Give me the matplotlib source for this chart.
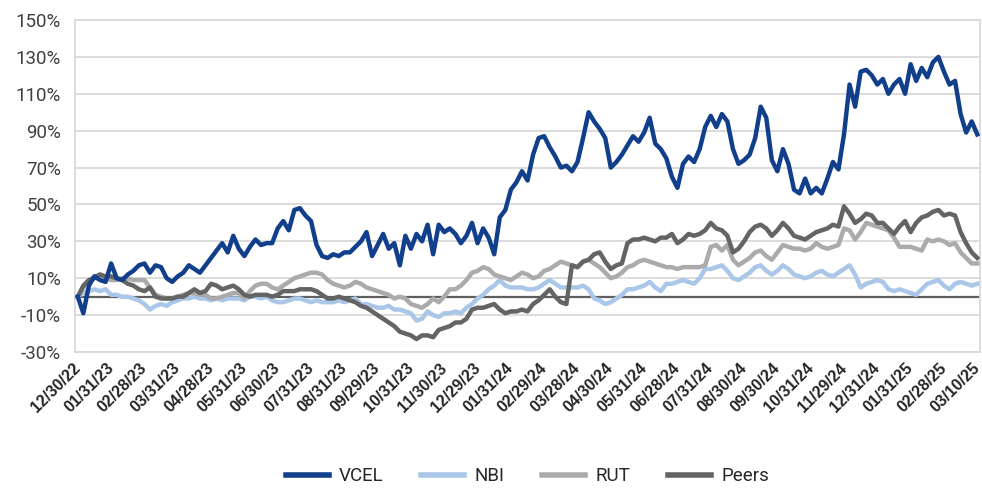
import matplotlib.pyplot as plt
from matplotlib.ticker import FuncFormatter

# values, roughly 6 points per month (cumulative return, %)
vcel = [0, -9, 6, 11, 9, 8, 18, 10, 9, 12, 14, 17, 18, 13, 17, 16, 10, 8, 11, 13,
        17, 15, 13, 17, 21, 25, 29, 24, 33, 26, 22, 27, 31, 28, 29, 29, 37, 41, 36, 47,
        48, 44, 41, 28, 22, 21, 23, 22, 24, 24, 27, 30, 35, 22, 28, 34, 26, 29, 17, 33,
        26, 34, 30, 39, 23, 39, 35, 37, 34, 29, 33, 40, 29, 37, 32, 23, 43, 47, 58, 62,
        68, 63, 77, 86, 87, 81, 76, 70, 71, 68, 73, 86, 100, 95, 91, 86, 70, 73, 77, 82,
        87, 84, 89, 97, 83, 80, 75, 65, 59, 72, 76, 73, 80, 92, 98, 92, 99, 95, 80, 72,
        74, 77, 86, 103, 97, 74, 68, 80, 72, 58, 56, 64, 56, 59, 56, 64, 73, 69, 88, 115,
        103, 122, 123, 120, 115, 118, 110, 115, 118, 110, 126, 117, 124, 119, 127, 130, 122, 115, 117, 99,
        89, 95, 88]

nbi = [0, 2, 3, 4, 3, 4, 1, 1, 0, 0, -1, -2, -4, -7, -5, -4, -5, -3, -2, -1,
       -1, 0, -1, -1, -2, -1, -2, -1, -1, -1, -2, 0, 0, -1, 0, -2, -3, -3, -2, -1,
       -1, -2, -3, -2, -3, -3, -3, -2, -3, -2, -1, -4, -4, -5, -6, -6, -5, -7, -7, -8,
       -9, -13, -12, -8, -10, -11, -9, -9, -8, -9, -6, -4, -1, 1, 4, 6, 9, 6, 5, 5,
       5, 4, 4, 5, 7, 9, 7, 5, 5, 5, 5, 6, 4, -1, -2, -4, -3, -1, 1, 4,
       4, 5, 6, 8, 5, 3, 7, 7, 8, 9, 8, 7, 10, 15, 15, 16, 17, 14, 10, 9,
       11, 13, 16, 17, 14, 12, 14, 17, 15, 12, 11, 10, 11, 13, 14, 12, 11, 13, 15, 17,
       12, 5, 7, 8, 9, 8, 4, 3, 4, 3, 2, 1, 4, 7, 8, 9, 6, 4, 7, 8,
       7, 6, 7]

rut = [0, 5, 8, 11, 12, 10, 9, 9, 10, 10, 9, 9, 9, 5, 1, 0, -1, -1, 0, 1,
       2, 2, 1, 1, -1, -1, 0, 1, 2, 2, -1, 3, 6, 7, 7, 5, 4, 6, 8, 10,
       11, 12, 13, 13, 12, 9, 7, 6, 5, 6, 8, 7, 5, 4, 3, 2, 1, -1, 0, -1,
       -4, -5, -6, -4, -1, -3, 0, 4, 4, 6, 9, 13, 14, 16, 15, 12, 11, 10, 9, 11,
       13, 12, 10, 11, 14, 15, 17, 19, 18, 17, 16, 19, 20, 18, 16, 13, 10, 11, 13, 16,
       17, 19, 20, 19, 18, 17, 16, 16, 15, 16, 16, 16, 16, 17, 27, 28, 25, 28, 20, 17,
       19, 21, 24, 25, 22, 20, 24, 28, 27, 26, 26, 25, 26, 29, 27, 26, 27, 28, 37, 36,
       31, 35, 40, 39, 38, 37, 36, 32, 27, 27, 27, 26, 25, 31, 30, 31, 30, 28, 29, 24,
       21, 18, 18]

peers = [0, 6, 9, 10, 12, 11, 11, 10, 9, 7, 6, 4, 3, 5, 0, -1, -1, -1, 0, 0,
         2, 4, 2, 3, 7, 6, 4, 5, 6, 4, 1, 0, 1, 1, 1, 0, 1, 3, 3, 3,
         4, 4, 4, 3, 1, -1, -1, 0, -1, -2, -3, -5, -6, -8, -10, -12, -14, -16, -19, -20,
         -21, -23, -21, -21, -22, -18, -17, -16, -14, -14, -12, -7, -6, -6, -5, -4, -7, -9, -8, -8,
         -7, -8, -4, -2, 1, 4, 0, -3, -4, 17, 16, 19, 20, 23, 24, 19, 15, 17, 18, 29,
         31, 31, 32, 31, 30, 32, 32, 34, 29, 31, 34, 33, 34, 36, 40, 37, 36, 33, 24, 26,
         30, 35, 38, 39, 37, 33, 36, 40, 37, 33, 32, 31, 33, 35, 36, 37, 39, 38, 49, 45,
         40, 42, 45, 44, 40, 40, 37, 34, 38, 41, 35, 40, 43, 44, 46, 47, 44, 45, 44, 35,
         29, 24, 21]

date_labels = ['12/30/22', '01/31/23', '02/28/23', '03/31/23', '04/28/23', '05/31/23', '06/30/23',
               '07/31/23', '08/31/23', '09/29/23', '10/31/23', '11/30/23', '12/29/23', '01/31/24',
               '02/29/24', '03/28/24', '04/30/24', '05/31/24', '06/28/24', '07/31/24', '08/30/24',
               '09/30/24', '10/31/24', '11/29/24', '12/31/24', '01/31/25', '02/28/25', '03/10/25']

x = list(range(len(vcel)))

fig = plt.figure(figsize=(9.82, 4.88), dpi=100)
ax = fig.add_axes([0.0764, 0.2787, 0.9216, 0.6803])

ax.axhline(0, color='#5f5f5f', lw=1.6, zorder=1)
ax.plot(x, nbi, color='#aac7e9', lw=3.2, label='NBI', zorder=2)
ax.plot(x, rut, color='#ababab', lw=3.2, label='RUT', zorder=3)
ax.plot(x, peers, color='#646464', lw=3.2, label='Peers', zorder=4)
ax.plot(x, vcel, color='#123f8c', lw=3.2, label='VCEL', zorder=5)

ax.set_ylim(-30, 150)
ax.set_yticks(range(-30, 151, 20))
ax.yaxis.set_major_formatter(FuncFormatter(lambda v, p: '%d%%' % v))
ax.set_xlim(-0.5, len(vcel) - 0.5)
ax.set_xticks(range(0, len(vcel), 6))
ax.set_xticklabels(date_labels, rotation=45, ha='right', va='center', rotation_mode='anchor',
                   fontsize=11.5, fontweight='bold', family='Liberation Sans', color='#262626')
for lab in ax.get_yticklabels():
    lab.set_family('Roboto')
    lab.set_fontsize(13.5)
    lab.set_color('#404040')

ax.grid(axis='y', color='#d9d9d9', lw=1.3)
ax.set_axisbelow(True)
for s in ax.spines.values():
    s.set_color('#d9d9d9')
    s.set_linewidth(1.3)
ax.tick_params(axis='both', length=0)
ax.tick_params(axis='y', pad=10)
ax.tick_params(axis='x', pad=10)

h, l = ax.get_legend_handles_labels()
order = [3, 0, 1, 2]
leg = fig.legend([h[i] for i in order], [l[i] for i in order], loc='center',
                 bbox_to_anchor=(0.537, 0.024), ncol=4, frameon=False,
                 prop={'family': 'Roboto', 'size': 13.5}, handlelength=2.3,
                 handletextpad=0.55, columnspacing=2.0)
for t in leg.get_texts():
    t.set_color('#262626')
for ln in leg.get_lines():
    ln.set_linewidth(4)

fig.savefig('out.png', dpi=100)
